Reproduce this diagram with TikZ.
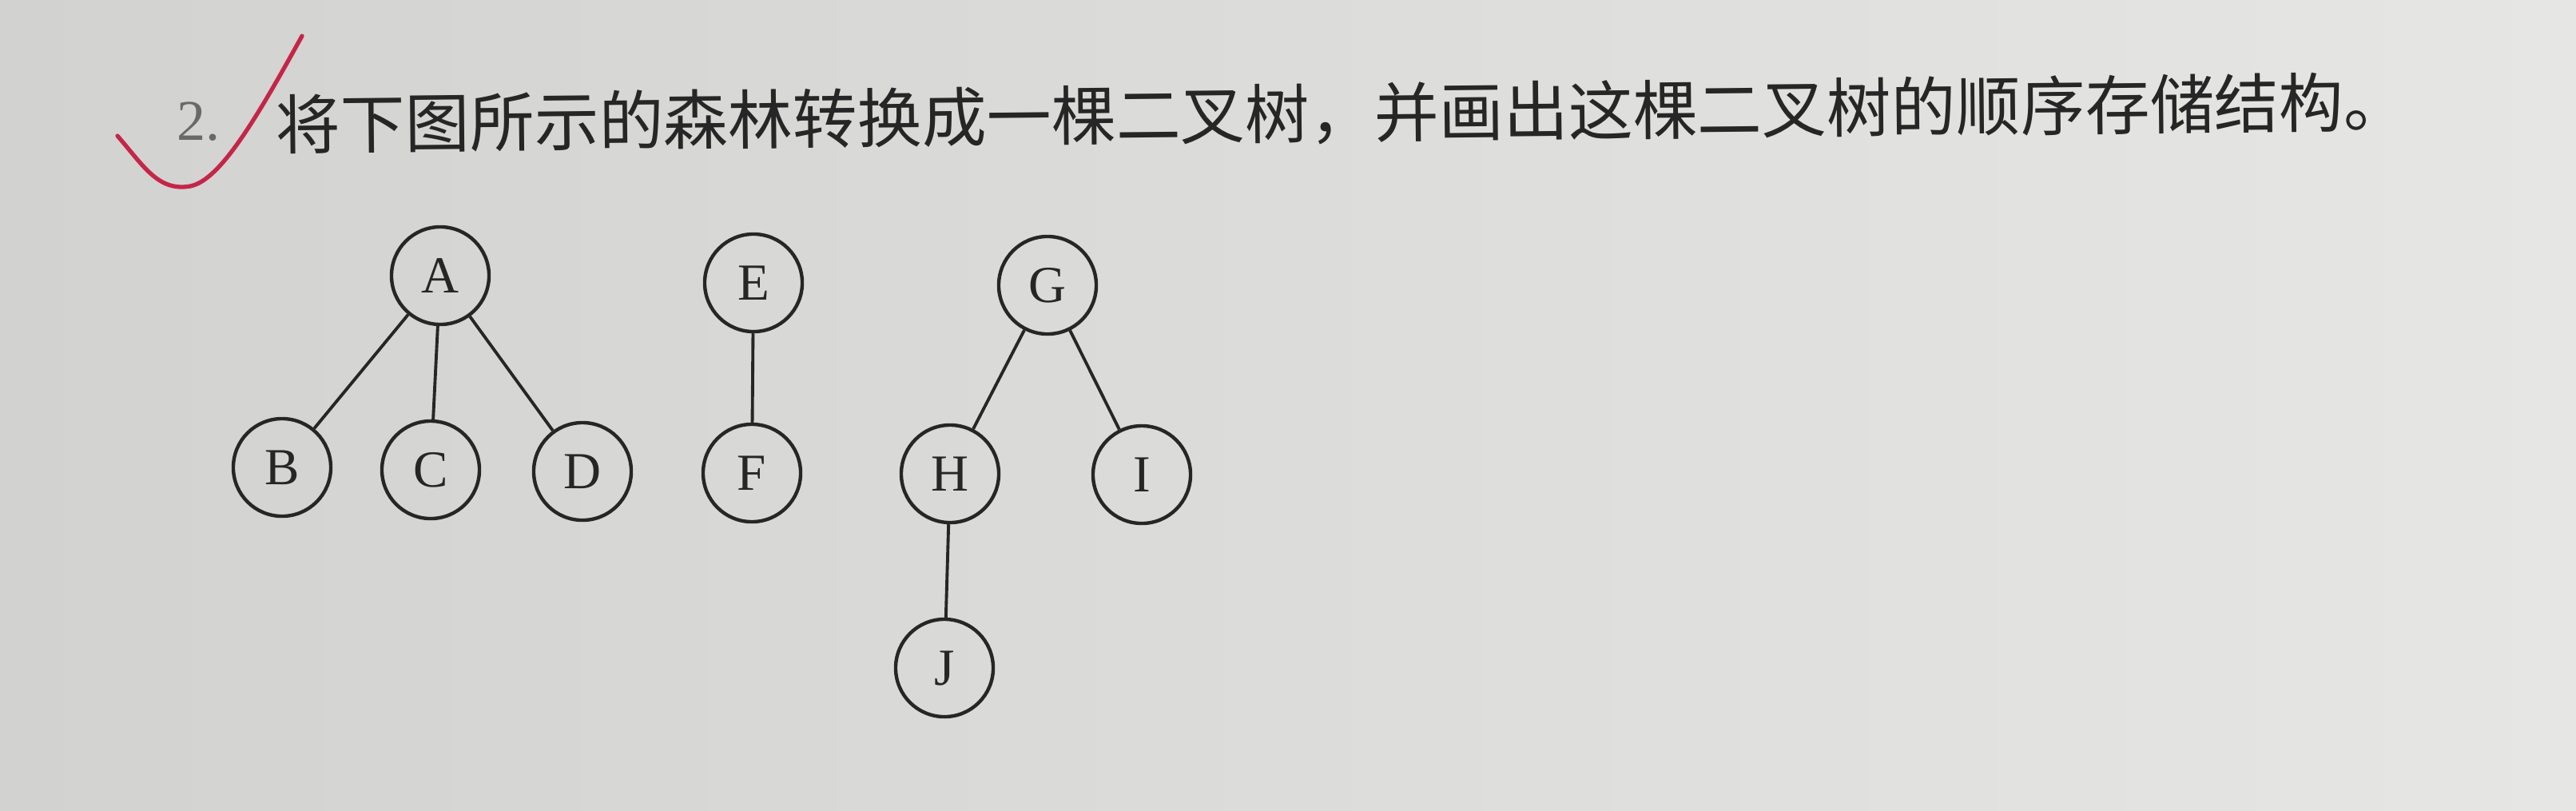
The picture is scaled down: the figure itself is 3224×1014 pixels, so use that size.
\documentclass[tikz,border=0pt]{standalone}
\usepackage{fontspec}
\setmainfont{Liberation Serif}
\newfontfamily\cjk{Noto Sans CJK SC}
\definecolor{paperL}{RGB}{210,210,208}
\definecolor{paperR}{RGB}{230,230,228}
\definecolor{ink}{RGB}{38,38,38}
\definecolor{numgray}{RGB}{105,105,105}
\definecolor{redpen}{RGB}{196,38,72}
\begin{document}
\begin{tikzpicture}[x=0.01cm,y=-0.01cm,
  vert/.style={circle,draw=ink,line width=1.25pt,minimum size=1.22cm,inner sep=0pt,
    font=\fontsize{18.5}{20}\selectfont,text=ink},
  treeedge/.style={draw=ink,line width=1.1pt},
  pen/.style={draw=redpen,line width=1.5pt,line cap=round}]
\shade[left color=paperL,right color=paperR] (0,0) rectangle (3224,1014);
\useasboundingbox (0,0) rectangle (3224,1014);
% question text
\node[anchor=base west,inner sep=0pt,text=numgray,font=\fontsize{20.5}{22}\selectfont] (num) at (221,175) {2.};
\node[anchor=base west,inner sep=0pt,text=ink,rotate=0.6,font=\cjk\fontsize{23}{25}\selectfont] (q) at (345,186)
  {将下图所示的森林转换成一棵二叉树，并画出这棵二叉树的顺序存储结构。};
% red check mark
\draw[pen] (147,170) .. controls (180,208) and (198,240) .. (238,233)
  .. controls (275,226) and (320,150) .. (378,45);
% forest
\node[vert] (A) at (551,345) {A};
\node[vert] (B) at (353,585) {B};
\node[vert] (C) at (539,588) {C};
\node[vert] (D) at (729,590) {D};
\node[vert] (E) at (943,354) {E};
\node[vert] (F) at (941,592) {F};
\node[vert] (G) at (1311,357) {G};
\node[vert] (H) at (1189,593) {H};
\node[vert] (I) at (1429,594) {I};
\node[vert] (J) at (1182,836) {J};
\draw[treeedge] (A) -- (B);
\draw[treeedge] (A) -- (C);
\draw[treeedge] (A) -- (D);
\draw[treeedge] (E) -- (F);
\draw[treeedge] (G) -- (H);
\draw[treeedge] (G) -- (I);
\draw[treeedge] (H) -- (J);
\end{tikzpicture}
\end{document}
